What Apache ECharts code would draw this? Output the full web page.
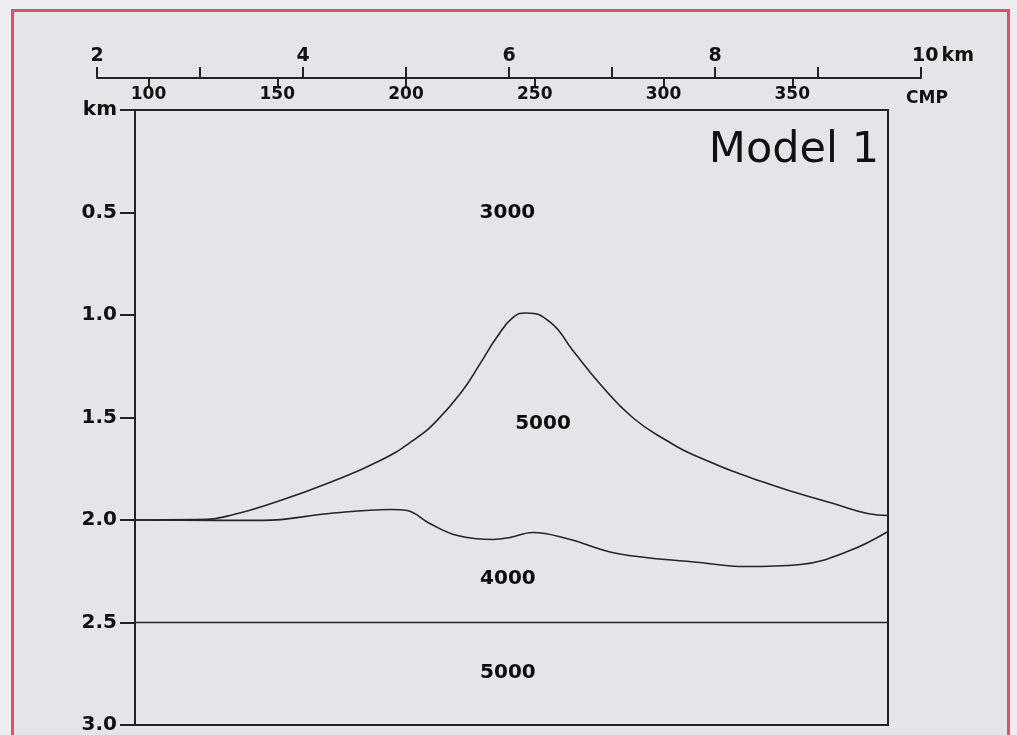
<!DOCTYPE html>
<html>
<head>
<meta charset="utf-8">
<script src="https://cdn.jsdelivr.net/npm/echarts@6/dist/echarts.min.js"></script>
<style>
html,body{margin:0;padding:0;background:#efedf1;}
#c{width:1017px;height:735px;}
</style>
</head>
<body>
<div id="c"></div>
<script>
// Distance along profile (km) and depth (km)
const upperX = [2.369, 2.97, 3.29, 3.78, 4.26, 4.75, 5.07, 5.30, 5.55, 5.72, 5.88, 6.04, 6.17, 6.40, 6.62, 6.88, 7.20, 7.53, 7.85, 8.51, 9.15, 9.48, 9.68];
const upperDepth = [2.0, 1.998, 1.978, 1.905, 1.817, 1.710, 1.612, 1.515, 1.368, 1.237, 1.110, 1.012, 0.99, 1.035, 1.173, 1.334, 1.500, 1.612, 1.695, 1.822, 1.920, 1.968, 1.978];
const lowerX = [2.369, 3.61, 4.26, 4.85, 5.01, 5.23, 5.50, 5.85, 6.01, 6.23, 6.56, 7.05, 7.85, 8.29, 8.83, 9.31, 9.68];
const lowerDepth = [2.0, 2.002, 1.968, 1.949, 1.954, 2.017, 2.076, 2.095, 2.085, 2.061, 2.090, 2.163, 2.207, 2.227, 2.217, 2.149, 2.056];
const baseX = [2.369, 9.68];
const baseDepth = [2.5, 2.5];
// Velocity labels (m/s)
const velLabels = ['3000', '5000', '4000', '5000'];
const velX = [5.985, 6.33, 5.99, 5.99];
const velDepth = [0.5, 1.532, 2.285, 2.744];
// Axis ranges / ticks
const kmTicks = [2, 4, 6, 8, 10];
const cmpTicks = [100, 150, 200, 250, 300, 350];

const zip = (xs, ys) => xs.map((x, i) => [x, ys[i]]);
const lineStyle = { color: '#262626', width: 1.6 };
const boldFont = 'DejaVu Sans';

const chart = echarts.init(document.getElementById('c'), null, { renderer: 'canvas' });
chart.setOption({
  animation: false,
  backgroundColor: '#efedf1',
  title: {
    text: 'Model 1', right: 133, top: 124,
    textStyle: { fontFamily: 'DejaVu Sans', fontSize: 43, fontWeight: 'normal', color: '#111' }
  },
  graphic: [{
    type: 'rect', z: -10, silent: true,
    shape: { x: 12.5, y: 10.5, width: 996, height: 760 },
    style: { fill: '#e4e4e9', stroke: '#e0506a', lineWidth: 3 }
  }],
  grid: [
    { left: 135, top: 110, width: 753, height: 615, show: true, borderColor: '#222', borderWidth: 2, backgroundColor: 'transparent' },
    { left: 97, top: 77, width: 824, height: 1, show: false }
  ],
  xAxis: [
    { gridIndex: 0, type: 'value', min: 2.369, max: 9.68, show: false },
    {
      gridIndex: 1, type: 'value', position: 'top', min: 2, max: 10, interval: 1,
      axisLine: { show: true, lineStyle: { color: '#222', width: 2 } },
      axisTick: { show: true, inside: false, length: 11, lineStyle: { color: '#222', width: 2 } },
      splitLine: { show: false },
      axisLabel: {
        show: true, margin: 11, color: '#111',
        fontFamily: boldFont, fontWeight: 'bold', fontSize: 19,
        formatter: v => kmTicks.includes(v) ? (v === 10 ? '{n|10}{u|km}' : String(v)) : '',
        rich: {
          n: { fontFamily: boldFont, fontWeight: 'bold', fontSize: 19, color: '#111', padding: [0, 0, 0, 44] },
          u: { fontFamily: boldFont, fontWeight: 'bold', fontSize: 19, color: '#111', padding: [0, 0, 0, 3] }
        }
      }
    },
    {
      gridIndex: 1, type: 'value', position: 'bottom', min: 80, max: 400,
      axisLine: { show: false },
      axisTick: { show: true, inside: false, length: 10, customValues: cmpTicks, lineStyle: { color: '#222', width: 2 } },
      splitLine: { show: false },
      axisLabel: {
        show: true, margin: 8, color: '#111', customValues: cmpTicks,
        fontFamily: boldFont, fontWeight: 'bold', fontSize: 17
      },
      name: 'CMP', nameLocation: 'end', nameGap: -15,
      nameTextStyle: { fontFamily: boldFont, fontWeight: 'bold', fontSize: 17, color: '#111', verticalAlign: 'top', align: 'left', padding: [12, 0, 0, 0] }
    }
  ],
  yAxis: [
    {
      gridIndex: 0, type: 'value', inverse: true, min: 0, max: 3, interval: 0.5,
      axisLine: { show: true, lineStyle: { color: '#222', width: 2 } },
      axisTick: { show: true, inside: false, length: 15, lineStyle: { color: '#222', width: 2 } },
      splitLine: { show: false },
      axisLabel: {
        show: true, margin: 18, color: '#111',
        fontFamily: boldFont, fontWeight: 'bold', fontSize: 20,
        formatter: v => (v === 0 ? 'km' : v.toFixed(1))
      }
    },
    { gridIndex: 1, type: 'value', min: 0, max: 1, show: false }
  ],
  series: [
    { type: 'line', xAxisIndex: 0, yAxisIndex: 0, data: zip(upperX, upperDepth), smooth: 0.5, showSymbol: false, lineStyle, silent: true },
    { type: 'line', xAxisIndex: 0, yAxisIndex: 0, data: zip(lowerX, lowerDepth), smooth: 0.4, showSymbol: false, lineStyle, silent: true },
    { type: 'line', xAxisIndex: 0, yAxisIndex: 0, data: zip(baseX, baseDepth), showSymbol: false, lineStyle, silent: true },
    {
      type: 'scatter', xAxisIndex: 0, yAxisIndex: 0, symbolSize: 0, silent: true,
      itemStyle: { opacity: 1 },
      data: velLabels.map((t, i) => ({ name: t, value: [velX[i], velDepth[i]] })),
      label: { show: true, position: 'inside', formatter: p => p.name, fontFamily: boldFont, fontWeight: 'bold', fontSize: 20, color: '#0d0d0d' }
    }
  ]
});
</script>
</body>
</html>
